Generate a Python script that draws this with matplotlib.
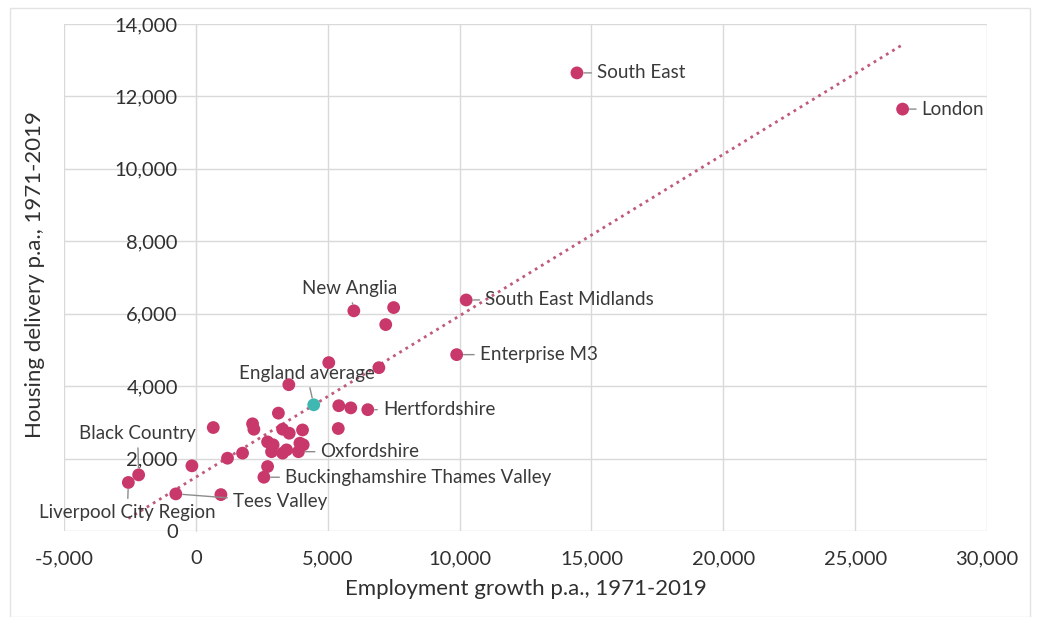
import matplotlib
matplotlib.use("Agg")
import matplotlib.pyplot as plt
import numpy as np
from matplotlib.patches import Rectangle
from matplotlib.ticker import FuncFormatter

plt.rcParams['font.family'] = ['Lato', 'DejaVu Sans']

# ---- data ----
employment_growth = [14450, 26800, 10250, 5990, 7500, 7200, 9890, 5040, 6940, 3525,
                     5420, 5875, 6520, 5400, 3130, 660, 2150, 2200, 3290, 3540,
                     4045, 2720, 2930, 2870, 3290, 3440, 3945, 4070, 3890, 1770,
                     1200, -150, 2720, 2580, -2170, -2560, -760, 950]
housing_delivery = [12650, 11650, 6380, 6080, 6170, 5700, 4870, 4650, 4510, 4040,
                    3460, 3400, 3350, 2830, 3255, 2857, 2960, 2810, 2810, 2700,
                    2790, 2460, 2380, 2190, 2150, 2240, 2425, 2380, 2190, 2150,
                    2010, 1800, 1780, 1485, 1550, 1340, 1025, 1005]
lep_labels = ["South East", "London", "South East Midlands", "New Anglia", "", "",
              "Enterprise M3", "", "", "", "", "", "Hertfordshire", "", "", "", "",
              "", "", "", "", "", "", "", "", "", "", "", "Oxfordshire", "", "", "",
              "", "Buckinghamshire Thames Valley", "Black Country",
              "Liverpool City Region", "Tees Valley", ""]
england_avg_x = [4470]
england_avg_y = [3485]
england_avg_label = "England average"

x_ticks = [-5000, 0, 5000, 10000, 15000, 20000, 25000, 30000]
y_ticks = [0, 2000, 4000, 6000, 8000, 10000, 12000, 14000]
x_title = "Employment growth p.a., 1971-2019"
y_title = "Housing delivery p.a., 1971-2019"

# ---- label placement (pixel offsets, ha, va) ----
label_pos = {
    "South East": (20, 0, 'left', 'center'),
    "London": (19, 0, 'left', 'center'),
    "South East Midlands": (19, 0, 'left', 'center'),
    "Enterprise M3": (23, 0, 'left', 'center'),
    "Hertfordshire": (15, 0, 'left', 'center'),
    "Oxfordshire": (22, 0, 'left', 'center'),
    "Buckinghamshire Thames Valley": (21, 0, 'left', 'center'),
    "Tees Valley": (57, -8, 'left', 'center'),
    "Liverpool City Region": (-1, -30, 'center', 'center'),
    "Black Country": (-1, 41, 'center', 'center'),
    "New Anglia": (-4, 22, 'center', 'center'),
    "England average": (-7, 31, 'center', 'center'),
}

PINK = '#c8386a'
TEAL = '#3fb8b2'
GRID = '#d9d9d9'
TXT = '#3a3a3a'

fig = plt.figure(figsize=(10.38, 6.17), dpi=100)
ax = fig.add_axes([64/1038, 1-531/617, (987-64)/1038, (531-24)/617])

# outer frame
fig.patches.append(Rectangle((10/1038, 0), 1020/1038, 1-8/617, transform=fig.transFigure,
                             fill=False, edgecolor='#e3e3e3', lw=1))

ax.set_xlim(-5000, 30000)
ax.set_ylim(0, 14000)
ax.set_xticks(x_ticks)
ax.set_yticks(y_ticks)
fmt = FuncFormatter(lambda v, p: f"{int(v):,}")
ax.xaxis.set_major_formatter(fmt)
ax.yaxis.set_major_formatter(fmt)
ax.grid(True, color=GRID, lw=1)
ax.set_axisbelow(True)
for s in ['top', 'right', 'bottom']:
    ax.spines[s].set_visible(False)
ax.spines['left'].set_position(('data', 0))
ax.spines['left'].set_color(GRID)
ax.spines['left'].set_zorder(0)
ax.tick_params(axis='both', length=0, labelsize=14.5, labelcolor='#303030')
ax.tick_params(axis='y', pad=13)
ax.tick_params(axis='x', pad=14)

# trendline (linear fit of LEP data)
ex = np.array(employment_growth, dtype=float)
hy = np.array(housing_delivery, dtype=float)
m, c = np.polyfit(ex, hy, 1)
xs = np.array([ex.min(), ex.max()])
ax.plot(xs, m*xs + c, linestyle=(0, (1, 1.6)), color='#c05a7a', lw=2, zorder=2)

ax.scatter(employment_growth, housing_delivery, s=85, color=PINK, zorder=3, edgecolors='none')
ax.scatter(england_avg_x, england_avg_y, s=85, color=TEAL, zorder=3, edgecolors='none')

def lab(x, y, name):
    dx, dy, ha, va = label_pos[name]
    ax.annotate(name, (x, y), xytext=(dx, dy), textcoords='offset pixels',
                ha=ha, va=va, fontsize=13.5, color=TXT, zorder=4,
                arrowprops=dict(arrowstyle='-', color='#8c8c8c', lw=1,
                                shrinkA=2, shrinkB=5))

for x, y, n in zip(employment_growth, housing_delivery, lep_labels):
    if n:
        lab(x, y, n)
lab(england_avg_x[0], england_avg_y[0], england_avg_label)

ax.set_xlabel(x_title, fontsize=16, color='#303030', labelpad=8)
ax.set_ylabel(y_title, fontsize=16, color='#303030')
ax.yaxis.set_label_coords(-19/923, 0.505)

fig.savefig("out.png", dpi=100)
